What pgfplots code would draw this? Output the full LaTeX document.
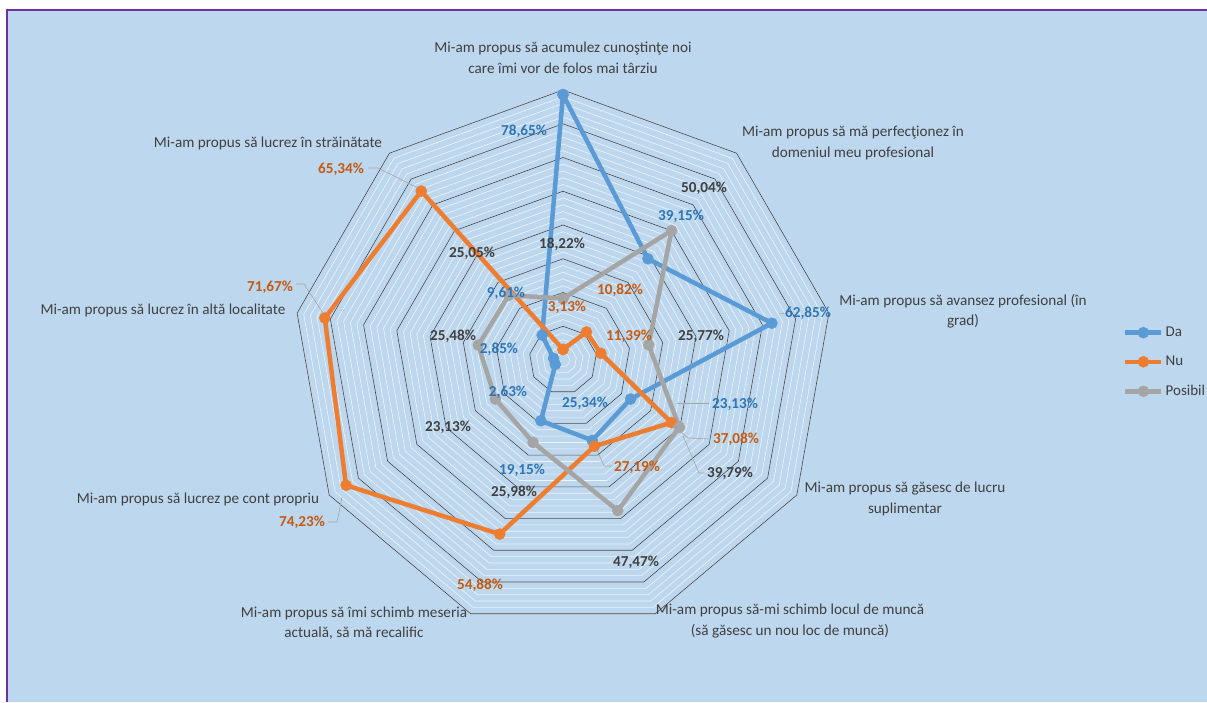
\documentclass[border=0pt]{standalone}
\usepackage{fontspec}
\setmainfont{Carlito}
\usepackage{pgfplots}
\usepackage{pgfplotstable}
\pgfplotsset{compat=1.18}
\usepgfplotslibrary{polar}
\definecolor{bgCol}{HTML}{BDD7EE}
\definecolor{daCol}{HTML}{5B9BD5}
\definecolor{nuCol}{HTML}{ED7D31}
\definecolor{posCol}{HTML}{A5A5A5}
\definecolor{daTxt}{HTML}{2E75B6}
\definecolor{nuTxt}{HTML}{C55A11}
\definecolor{txtCol}{HTML}{404040}
\definecolor{frameCol}{HTML}{7030A0}

% unghi (grade, in sens orar de sus) si procente
\pgfplotstableread{
angle Da    Nu    Posibil
90    78.65 3.13  18.22
50    39.15 10.82 50.04
10    62.85 11.39 25.77
330   23.13 37.08 39.79
290   25.34 27.19 47.47
250   19.15 54.88 25.98
210   2.63  74.23 23.13
170   2.85  71.67 25.48
130   9.61  65.34 25.05
90    78.65 3.13  18.22
}\datatab

\pgfplotsset{serie/.style={#1, line width=4.5pt, line join=round, mark=*, mark size=5.5pt, mark options={line width=0.5pt}}}

\newcommand{\cat}[3]{\node[font=\fontsize{15.2}{20.5}\selectfont, text=txtCol, align=center] at (#1pt,-#2pt) {#3};}
\newcommand{\lbl}[4]{\node[font=\bfseries\fontsize{15.2}{18}\selectfont, text=#3, inner sep=0pt] at (#1pt,-#2pt) {#4};}

\begin{document}
\begin{tikzpicture}
\useasboundingbox (0,0) rectangle (1207pt,-702pt);
\fill[white] (0,0) rectangle (1207pt,-702pt);
\fill[bgCol] (7pt,-10pt) rectangle (1207pt,-702pt);
\draw[frameCol, line width=1.5pt] (7pt,-702pt) -- (7pt,-10pt) -- (1207pt,-10pt);

\begin{polaraxis}[
  at={(563pt,-360pt)}, anchor=center,
  width=540pt, height=540pt, scale only axis,
  hide axis, clip=false,
  xmin=0, xmax=360, ymin=0, ymax=80,
  legend style={at={(1.537,0.565)}, anchor=north west, draw=none, fill=none,
    font=\fontsize{15}{17}\selectfont, text=txtCol, row sep=14pt, inner sep=0pt},
  legend cell align=left,
  legend image code/.code={\draw[#1, mark repeat=2, mark phase=2] plot coordinates {(0pt,0pt) (18pt,0pt) (36pt,0pt)};},
]
\pgfplotsinvokeforeach{2,4,...,80}{
  \addplot[forget plot, white!75!bgCol, line width=0.6pt, mark=none]
    coordinates {(90,#1)(50,#1)(10,#1)(330,#1)(290,#1)(250,#1)(210,#1)(170,#1)(130,#1)(90,#1)};
}
\pgfplotsinvokeforeach{10,20,...,80}{
  \addplot[forget plot, txtCol, line width=0.6pt, mark=none]
    coordinates {(90,#1)(50,#1)(10,#1)(330,#1)(290,#1)(250,#1)(210,#1)(170,#1)(130,#1)(90,#1)};
}
\addplot[serie=daCol] table[x=angle, y=Da] {\datatab};
\addlegendentry{Da}
\addplot[serie=nuCol] table[x=angle, y=Nu] {\datatab};
\addlegendentry{Nu}
\addplot[serie=posCol] table[x=angle, y=Posibil] {\datatab};
\addlegendentry{Posibil}
\end{polaraxis}

% linii de legatura ale etichetelor
\begin{scope}[posCol, line width=0.6pt]
\draw (368pt,-168pt) -- (378pt,-168pt) -- (418pt,-188pt);
\draw (296pt,-284pt) -- (304pt,-284pt) -- (323pt,-313pt);
\draw (328pt,-522pt) -- (337pt,-522pt) -- (342pt,-497pt);
\draw (709pt,-403pt) -- (677pt,-403pt);
\draw (711pt,-439pt) -- (688pt,-438pt) -- (673pt,-425pt);
\draw (705pt,-473pt) -- (699pt,-473pt) -- (683pt,-436pt);
\draw (612pt,-466pt) -- (604pt,-466pt) -- (597pt,-450pt);
\draw (787pt,-313pt) -- (779pt,-314pt);
\end{scope}

% categorii
\cat{563}{58}{Mi-am propus să acumulez cunoştinţe noi\\care îmi vor de folos mai târziu}
\cat{853}{143}{Mi-am propus să mă perfecţionez în\\domeniul meu profesional}
\cat{963}{311}{Mi-am propus să avansez profesional (în\\grad)}
\cat{905}{499}{Mi-am propus să găsesc de lucru\\suplimentar}
\cat{790}{621}{Mi-am propus să-mi schimb locul de muncă\\(să găsesc un nou loc de muncă)}
\cat{354}{623}{Mi-am propus să îmi schimb meseria\\actuală, să mă recalific}
\cat{198}{499}{Mi-am propus să lucrez pe cont propriu}
\cat{163}{310}{Mi-am propus să lucrez în altă localitate}
\cat{268}{143}{Mi-am propus să lucrez în străinătate}

% etichete Da
\lbl{524}{131}{daTxt}{78,65\%}
\lbl{681}{216}{daTxt}{39,15\%}
\lbl{808}{313}{daTxt}{62,85\%}
\lbl{735}{404}{daTxt}{23,13\%}
\lbl{585}{403}{daTxt}{25,34\%}
\lbl{522}{470}{daTxt}{19,15\%}
\lbl{508}{392}{daTxt}{2,63\%}
\lbl{499}{349}{daTxt}{2,85\%}
\lbl{506}{293}{daTxt}{9,61\%}
% etichete Nu
\lbl{567}{307}{nuTxt}{3,13\%}
\lbl{620}{290}{nuTxt}{10,82\%}
\lbl{629}{336}{nuTxt}{11,39\%}
\lbl{736}{439}{nuTxt}{37,08\%}
\lbl{637}{467}{nuTxt}{27,19\%}
\lbl{480}{585}{nuTxt}{54,88\%}
\lbl{302}{522}{nuTxt}{74,23\%}
\lbl{270}{287}{nuTxt}{71,67\%}
\lbl{341}{169}{nuTxt}{65,34\%}
% etichete Posibil
\lbl{562}{244}{txtCol}{18,22\%}
\lbl{704}{188}{txtCol}{50,04\%}
\lbl{701}{336}{txtCol}{25,77\%}
\lbl{730}{473}{txtCol}{39,79\%}
\lbl{636}{562}{txtCol}{47,47\%}
\lbl{514}{492}{txtCol}{25,98\%}
\lbl{448}{427}{txtCol}{23,13\%}
\lbl{453}{336}{txtCol}{25,48\%}
\lbl{472}{253}{txtCol}{25,05\%}
\end{tikzpicture}
\end{document}
